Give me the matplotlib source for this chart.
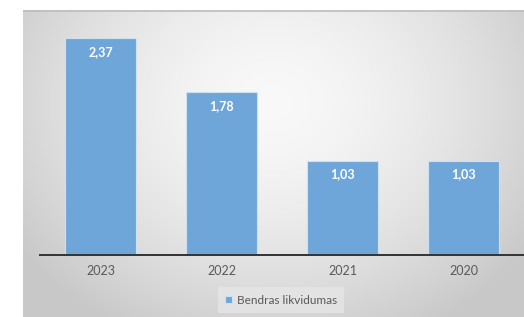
import numpy as np
import matplotlib
matplotlib.use('Agg')
import matplotlib.pyplot as plt

years = ['2023', '2022', '2021', '2020']
values = [2.37, 1.78, 1.03, 1.03]
series_name = 'Bendras likvidumas'

plt.rcParams['font.family'] = ['Lato', 'DejaVu Sans']

W, H = 524, 317
fig = plt.figure(figsize=(W / 100, H / 100), dpi=100)

# gradient chart-area background
bg = fig.add_axes([23 / W, 0, 1 - 23 / W, (H - 10) / H])
gx, gy = np.meshgrid(np.linspace(0, 1, 300), np.linspace(0, 1, 200))
r = np.sqrt(((gx - 0.5) / 0.62) ** 2 + ((gy - 0.3) / 0.85) ** 2)
shade = 0.975 - 0.19 * np.clip(r, 0, 1) ** 1.6
bg.imshow(np.dstack([shade] * 3), aspect='auto', extent=[0, 1, 1, 0])
bg.set_xlim(0, 1)
bg.set_ylim(1, 0)
bg.axis('off')
bg.plot([0, 1], [0.002, 0.002], color='#bdbdbd', lw=1.2)

ax = fig.add_axes([40 / W, 1 - 255 / H, 1 - 40 / W, 0.7224])
ax.patch.set_alpha(0)
x = np.arange(len(years))
bars = ax.bar(x, values, width=0.595, color='#6fa6d9', edgecolor='#cfe0f0',
              linewidth=0.8, label=series_name)
for b, v in zip(bars, values):
    ax.annotate(f'{v:.2f}'.replace('.', ','), (b.get_x() + b.get_width() / 2, v),
                xytext=(0, -10), textcoords='offset points', ha='center', va='center',
                color='white', fontweight='bold', fontsize=9)

ax.set_xlim(-0.5, len(years) - 0.5)
ax.set_ylim(0, 2.5)
ax.set_xticks(x)
ax.set_xticklabels(years, color='#595959', fontsize=9)
ax.tick_params(axis='x', length=0, pad=7)
ax.set_yticks([])
for s in ['top', 'right', 'left']:
    ax.spines[s].set_visible(False)
ax.spines['bottom'].set_color('#333333')
ax.spines['bottom'].set_linewidth(1.4)

leg = fig.legend(loc='center', bbox_to_anchor=(281 / W, 1 - 300 / H), frameon=True,
                 fontsize=8.5, handlelength=0.6, handleheight=0.6, handletextpad=0.4,
                 borderpad=0.6, fancybox=False)
leg.get_frame().set_facecolor('#e6e6e6')
leg.get_frame().set_edgecolor('none')
leg.get_frame().set_alpha(0.8)
for t in leg.get_texts():
    t.set_color('#595959')

fig.savefig('out.png', dpi=100)
